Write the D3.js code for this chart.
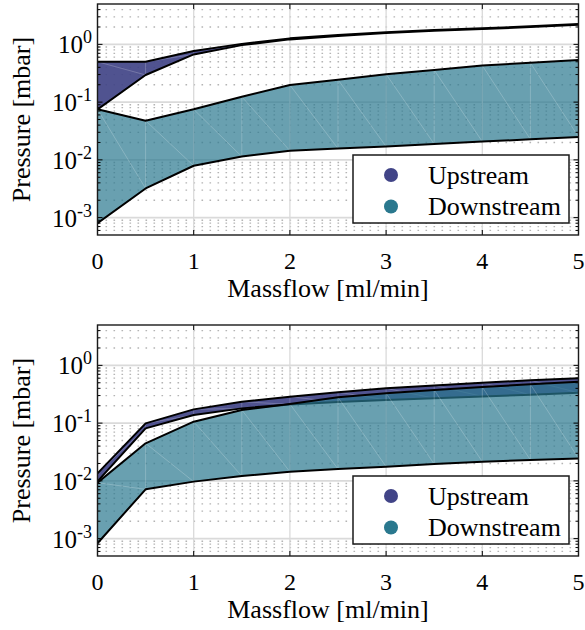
<!DOCTYPE html>
<html>
<head>
<meta charset="utf-8">
<script src="https://cdn.jsdelivr.net/npm/d3@7"></script>
<style>
  html, body { margin: 0; padding: 0; background: #fff; }
  svg { display: block; }
  svg text { font-family: "Liberation Serif", "Tinos", "Times New Roman", "DejaVu Serif", serif; fill: #000; }
</style>
</head>
<body>
<svg id="chart" width="585" height="630" font-family="Liberation Serif, Tinos, Times New Roman, DejaVu Serif, serif"></svg>
<script>
// Massflow sample points [ml/min]
const massflow = [0, 0.5, 1, 1.5, 2, 2.5, 3, 3.5, 4, 4.5, 5];

// Panel 1: pressure envelopes [mbar]
const p1UpMax   = [0.50, 0.50, 0.77, 1.02, 1.27, 1.45, 1.62, 1.77, 1.90, 2.05, 2.25];
const p1UpMin   = [0.075, 0.295, 0.67, 0.97, 1.22, 1.40, 1.57, 1.72, 1.85, 1.99, 2.18];
const p1DownMax = [0.075, 0.0477, 0.075, 0.124, 0.198, 0.245, 0.305, 0.36, 0.43, 0.48, 0.536];
const p1DownMin = [0.0008, 0.0032, 0.0079, 0.0114, 0.0144, 0.0157, 0.0170, 0.0188, 0.0207, 0.0227, 0.0250];

// Panel 2: pressure envelopes [mbar]
const p2UpMax   = [0.0135, 0.099, 0.173, 0.235, 0.286, 0.343, 0.40, 0.45, 0.50, 0.55, 0.60];
const p2UpMin   = [0.0098, 0.081, 0.138, 0.18, 0.211, 0.232, 0.252, 0.27, 0.29, 0.31, 0.335];
const p2DownMax = [0.0093, 0.0447, 0.106, 0.169, 0.214, 0.28, 0.33, 0.375, 0.42, 0.47, 0.52];
const p2DownMin = [0.00083, 0.00714, 0.0097, 0.0121, 0.0144, 0.0160, 0.0176, 0.0195, 0.0215, 0.0230, 0.0245];

// Axis ticks and labels
const xTicks = [0, 1, 2, 3, 4, 5];
const yDecades = [-3, -2, -1, 0];
const seriesNames = ["Upstream", "Downstream"];
const seriesColors = ["#414487", "#2a788e"];
const xTitle = "Massflow [ml/min]";
const yTitle = "Pressure [mbar]";

const svg = d3.select("#chart");
const left = 97.5, right = 578.5, plotH = 231;
const x = d3.scaleLinear().domain([0, 5]).range([left, right]);

// minor log ticks (2..9 x 10^k) inside the domain
const yDomain = [5e-4, 5];
const minorVals = [];
for (let e = -4; e <= 0; e++) {
  for (let m = 2; m <= 9; m++) {
    const v = m * Math.pow(10, e);
    if (v > yDomain[0] && v < yDomain[1]) minorVals.push(v);
  }
}

function drawBand(g, y, lo, hi, color, opacity) {
  const pts = massflow.map((m, i) => ({ m, lo: lo[i], hi: hi[i] }));
  const area = d3.area().x(d => x(d.m)).y0(d => y(d.lo)).y1(d => y(d.hi));
  g.append("path").datum(pts).attr("d", area)
    .attr("fill", color).attr("fill-opacity", opacity).attr("stroke", "none");
  // faint patch seams of the filled surface
  const seams = g.append("g").attr("stroke", "#ffffff").attr("stroke-opacity", 0.3).attr("stroke-width", 0.7);
  for (let i = 0; i < pts.length - 1; i++) {
    if (i > 0) seams.append("line")
      .attr("x1", x(pts[i].m)).attr("x2", x(pts[i].m))
      .attr("y1", y(pts[i].lo)).attr("y2", y(pts[i].hi));
    seams.append("line")
      .attr("x1", x(pts[i].m)).attr("y1", y(pts[i].hi))
      .attr("x2", x(pts[i + 1].m)).attr("y2", y(pts[i + 1].lo));
  }
}

function drawEdges(g, y, lo, hi) {
  const line = d3.line().x((d, i) => x(massflow[i])).y(d => y(d));
  [lo, hi].forEach(arr => {
    g.append("path").datum(arr).attr("d", line)
      .attr("fill", "none").attr("stroke", "#000").attr("stroke-width", 2)
      .attr("stroke-linejoin", "round");
  });
}

function drawPanel(top, up, down) {
  const bottom = top + plotH;
  const y = d3.scaleLog().domain(yDomain).range([bottom, top]);
  const g = svg.append("g");

  const clipId = "clip" + top;
  svg.append("clipPath").attr("id", clipId)
    .append("rect").attr("x", left).attr("y", top).attr("width", right - left).attr("height", plotH);

  // grid
  const grid = g.append("g");
  grid.selectAll(".minor").data(minorVals).join("line")
    .attr("x1", left).attr("x2", right)
    .attr("y1", d => y(d)).attr("y2", d => y(d))
    .attr("stroke", "#b4b4b4").attr("stroke-width", 1.3)
    .attr("stroke-dasharray", "1.6,6.4");
  grid.selectAll(".vmaj").data(xTicks).join("line")
    .attr("x1", d => x(d)).attr("x2", d => x(d))
    .attr("y1", top).attr("y2", bottom)
    .attr("stroke", "#dadada").attr("stroke-width", 1.3);
  grid.selectAll(".hmaj").data(yDecades).join("line")
    .attr("x1", left).attr("x2", right)
    .attr("y1", d => y(Math.pow(10, d))).attr("y2", d => y(Math.pow(10, d)))
    .attr("stroke", "#dadada").attr("stroke-width", 1.6);

  // data
  const data = g.append("g").attr("clip-path", `url(#${clipId})`);
  drawBand(data, y, up[0], up[1], seriesColors[0], 0.92);
  drawEdges(data, y, up[0], up[1]);
  drawBand(data, y, down[0], down[1], seriesColors[1], 0.7);
  drawEdges(data, y, down[0], down[1]);

  // ticks on all four sides (inward)
  const tk = g.append("g").attr("stroke", "#000").attr("stroke-width", 1);
  xTicks.forEach(t => {
    tk.append("line").attr("x1", x(t)).attr("x2", x(t)).attr("y1", bottom).attr("y2", bottom - 5);
    tk.append("line").attr("x1", x(t)).attr("x2", x(t)).attr("y1", top).attr("y2", top + 5);
  });
  yDecades.forEach(e => {
    const yy = y(Math.pow(10, e));
    tk.append("line").attr("x1", left).attr("x2", left + 5).attr("y1", yy).attr("y2", yy);
    tk.append("line").attr("x1", right).attr("x2", right - 5).attr("y1", yy).attr("y2", yy);
  });
  minorVals.forEach(v => {
    const yy = y(v);
    tk.append("line").attr("x1", left).attr("x2", left + 3).attr("y1", yy).attr("y2", yy);
    tk.append("line").attr("x1", right).attr("x2", right - 3).attr("y1", yy).attr("y2", yy);
  });

  // frame
  g.append("rect").attr("x", left).attr("y", top).attr("width", right - left).attr("height", plotH)
    .attr("fill", "none").attr("stroke", "#1a1a1a").attr("stroke-width", 1.4);

  // x tick labels
  g.selectAll(".xl").data(xTicks).join("text")
    .attr("x", d => x(d)).attr("y", bottom + 34)
    .attr("text-anchor", "middle").attr("font-size", 24).text(d => d);

  // y tick labels: 10^k
  yDecades.forEach(e => {
    const t = g.append("text").attr("x", 92).attr("y", y(Math.pow(10, e)) + 9)
      .attr("text-anchor", "end").attr("font-size", 25);
    t.append("tspan").text("10");
    t.append("tspan").attr("dy", -10).attr("font-size", 18).text(e === 0 ? "0" : "-" + Math.abs(e));
  });

  // axis titles
  g.append("text").attr("x", (left + right) / 2 - 10).attr("y", bottom + 62)
    .attr("text-anchor", "middle").attr("font-size", 26).text(xTitle);
  g.append("text")
    .attr("transform", `translate(30,${(top + bottom) / 2}) rotate(-90)`)
    .attr("text-anchor", "middle").attr("font-size", 26).text(yTitle);

  // legend
  const lg = g.append("g");
  const lx = 353, ly = top + 151, lw = 216, lh = 68;
  lg.append("rect").attr("x", lx).attr("y", ly).attr("width", lw).attr("height", lh)
    .attr("fill", "#fff").attr("stroke", "#1a1a1a").attr("stroke-width", 1.5);
  seriesNames.forEach((name, i) => {
    const cy = ly + 20 + i * 31.5;
    lg.append("circle").attr("cx", lx + 38).attr("cy", cy).attr("r", 7).attr("fill", seriesColors[i]);
    lg.append("text").attr("x", lx + 75).attr("y", cy + 8.5).attr("font-size", 26).text(name);
  });
}

drawPanel(4, [p1UpMin, p1UpMax], [p1DownMin, p1DownMax]);
drawPanel(325, [p2UpMin, p2UpMax], [p2DownMin, p2DownMax]);
</script>
</body>
</html>
